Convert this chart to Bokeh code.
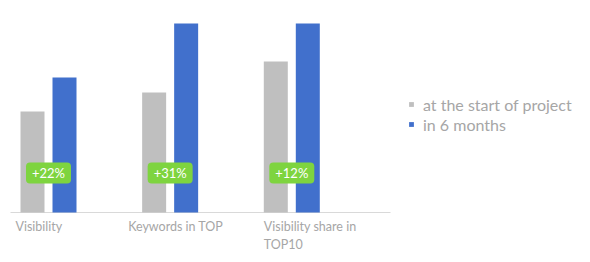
from bokeh.plotting import figure
from bokeh.models import ColumnDataSource, Range1d, Legend, LegendItem
from bokeh.core.properties import value
from bokeh.transform import dodge
from bokeh.embed import file_html
from bokeh.resources import INLINE

# ---- data ----
categories = ["Visibility", "Keywords in TOP", "Visibility share in\nTOP10"]
start_values = [101, 120, 151]
month6_values = [135, 189, 189]
growth_labels = ["+22%", "+31%", "+12%"]
series_names = ["at the start of project", "in 6 months"]

# ---- styles / layout ----
GRAY = "#bfbfbf"
BLUE = "#4170cc"
GREEN = "#7ed43f"
TEXT = "#a6a6a6"
AXIS = "#d9d9d9"
FONT = "Lato"

W, H = 590, 262
PX_PER_CAT = 121.65       # horizontal pixels per category
FIRST_CENTER_PX = 48      # pixel x of first category centre
BASE_PX = 212             # pixel y of baseline
label_dx_px = [-33, -42, -28]

idx = list(range(len(categories)))
x0 = -FIRST_CENTER_PX / PX_PER_CAT
x1 = (W - FIRST_CENTER_PX) / PX_PER_CAT

p = figure(width=W, height=H, output_backend="svg", toolbar_location=None,
           x_range=Range1d(x0, x1), y_range=Range1d(-(H - BASE_PX), BASE_PX),
           min_border=0, min_border_left=0, min_border_right=0,
           min_border_top=0, min_border_bottom=0)
p.axis.visible = False
p.grid.visible = False
p.outline_line_color = None
p.background_fill_color = "white"
p.border_fill_color = "white"

src = ColumnDataSource(dict(x=idx, start=start_values, m6=month6_values,
                            growth=growth_labels, cat=categories,
                            dx=label_dx_px, zero=[0] * len(idx)))

bw = 24 / PX_PER_CAT
off = 16 / PX_PER_CAT

# baseline
p.segment(x0=[(10 - FIRST_CENTER_PX) / PX_PER_CAT], y0=[0],
          x1=[(390 - FIRST_CENTER_PX) / PX_PER_CAT], y1=[0],
          line_color=AXIS, line_width=1)

r1 = p.vbar(x=dodge("x", -off, range=p.x_range), top="start", width=bw,
            source=src, fill_color=GRAY, line_color=None)
r2 = p.vbar(x=dodge("x", off, range=p.x_range), top="m6", width=bw,
            source=src, fill_color=BLUE, line_color=None)

# growth badges
badge_w = 45 / PX_PER_CAT
badge_cy = BASE_PX - 172.5
p.quad(left=dodge("x", -badge_w / 2, range=p.x_range),
       right=dodge("x", badge_w / 2, range=p.x_range),
       bottom=badge_cy - 10.5, top=badge_cy + 10.5, source=src,
       fill_color=GREEN, line_color=None, border_radius=4)
p.text(x="x", y=badge_cy, text="growth", source=src, text_color="white",
       text_font=value(FONT), text_font_size="13px", text_align="center",
       text_baseline="middle")

# category labels
p.text(x="x", y="zero", x_offset="dx", y_offset=6, text="cat", source=src,
       text_color=TEXT, text_font=value(FONT), text_font_size="12.5px",
       text_align="left", text_baseline="top", text_line_height=1.25)

legend = Legend(items=[LegendItem(label=series_names[0], renderers=[r1]),
                       LegendItem(label=series_names[1], renderers=[r2])],
                location=(408, H - 134), orientation="vertical",
                glyph_width=6, glyph_height=6, label_height=20,
                label_standoff=9, spacing=0, padding=0, margin=0,
                label_text_font=FONT, label_text_font_size="16px",
                label_text_color=TEXT, border_line_color=None,
                background_fill_alpha=0)
p.add_layout(legend)

open("out.html", "w").write(file_html(p, INLINE))
